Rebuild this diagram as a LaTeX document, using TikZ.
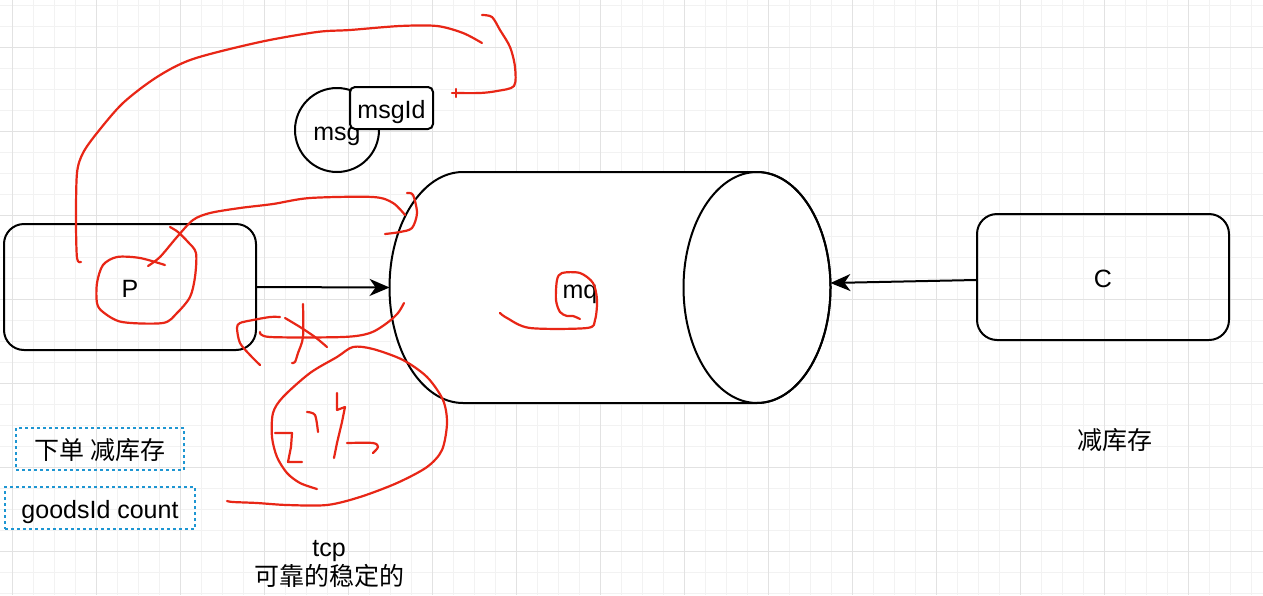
\documentclass[tikz,border=0pt]{standalone}
\usepackage{fontspec}
\setmainfont{Liberation Sans}
\newfontfamily\cjk{Noto Sans CJK SC}
\usetikzlibrary{arrows.meta}
\usetikzlibrary{calc}
\usetikzlibrary{positioning}
\definecolor{pen}{RGB}{232, 38, 22}
\definecolor{tagblue}{RGB}{30, 150, 210}
\definecolor{gridminor}{RGB}{242, 242, 242}
\definecolor{gridmajor}{RGB}{226, 226, 226}
\tikzset{
  every node/.style={font=\fontsize{12.5pt}{15pt}\selectfont, inner sep=0,
    text height=13.5pt, text depth=3pt},
  procbox/.style={draw, line width=1pt, rounded corners=10pt,
    minimum width=126pt, minimum height=63pt},
  idbox/.style={draw, fill=white, line width=1pt, rounded corners=2.5pt,
    minimum width=41.5pt, minimum height=21pt},
  tagbox/.style={draw=tagblue, line width=0.7pt, dash pattern=on 1.5pt off 1.5pt,
    minimum height=21pt},
  arrow/.style={-{Stealth[length=10pt, width=8.5pt, inset=3pt]}, line width=1pt},
  scribble/.style={pen, line width=1.1pt, line cap=round, line join=round}
}

\begin{document}
\begin{tikzpicture}[x=0.5pt, y=-0.5pt]
  \useasboundingbox[fill=white] (0,0) rectangle (1263,595);
  % grid
  \foreach \gx in {12,33,...,1263} \draw[gridminor, line width=0.5pt] (\gx,0) -- (\gx,595);
  \foreach \gy in {5,26,...,595} \draw[gridminor, line width=0.5pt] (0,\gy) -- (1263,\gy);
  \foreach \gx in {12,96,...,1263} \draw[gridmajor, line width=0.5pt] (\gx,0) -- (\gx,595);
  \foreach \gy in {47,131,...,595} \draw[gridmajor, line width=0.5pt] (0,\gy) -- (1263,\gy);

  % message
  \node[draw, circle, line width=1pt, minimum size=42pt, text height=0pt, text depth=0pt]
    (msg) at (337,130) {};
  \node (msglabel) at (337,130) {msg};
  \node[idbox] (msgid) at (391.5,108) {msgId};

  % producer, queue, consumer
  \node[procbox] (P) at (130,287) {P};
  \node[minimum width=220pt, minimum height=115.5pt, text height=0pt, text depth=0pt]
    (mq) at (610,287.5) {};
  \draw[line width=1pt, fill=white] (463,172) -- (757,172)
    arc[start angle=-90, end angle=90, x radius=73.5, y radius=115.5]
    -- (463,403)
    arc[start angle=90, end angle=270, x radius=73.5, y radius=115.5] -- cycle;
  \draw[line width=1pt] (757,287.5) ellipse[x radius=73.5, y radius=115.5];
  \node (mqlabel) at (580,287.5) {mq};
  \node[procbox] (C) at (1103,277) {C};

  \draw[arrow] (P.east) -- (mq.west);
  \draw[arrow] ([yshift=-1.5pt]C.west) -- ([yshift=2.25pt]mq.east);

  % notes
  \node[tagbox, minimum width=84pt] (order) at (100,449) {\cjk 下单 减库存};
  \node[tagbox, minimum width=95pt] (goods) at (100,508) {goodsId count};
  \node (stock) at (1115,439) {\cjk 减库存};
  \node (tcp) at (329,545.5) {tcp};
  \node (reliable) at (329,574.5) {\cjk 可靠的稳定的};

  % hand strokes
  \draw[scribble] plot[smooth] coordinates {(81,262) (77,258) (76,220) (77,173) (83,153) (97,133)
    (123,103) (157,77) (193,59) (260,42) (317,32) (350,30) (400,26) (437,26) (463,33) (482,43)};
  \draw[scribble] plot[smooth] coordinates {(482,15) (492,17) (500,30) (510,47) (515,67)
    (514,86) (497,91) (480,93) (455,93)};
  \draw[scribble] (452,93) -- (460,93) (456,89) -- (456,97);
  \draw[scribble] plot[smooth] coordinates {(165,265) (140,258) (117,257) (103,265) (97,283)
    (97,303) (103,312) (122,322) (163,323) (177,313) (190,297) (195,277) (196,253) (188,242)
    (178,232) (170,227)};
  \draw[scribble] plot[smooth] coordinates {(148,266) (160,257) (177,237) (193,220) (210,213)
    (240,208) (273,204) (310,198) (373,197) (393,203) (405,215)};
  \draw[scribble] plot[smooth] coordinates {(407,193) (413,195) (417,213) (412,228) (400,232) (385,234)};
  \draw[scribble] plot[smooth] coordinates {(260,365) (250,355) (240,343) (237,328) (240,323)
    (253,320) (270,317) (280,317)};
  \draw[scribble] plot[smooth] coordinates {(285,318) (300,327) (315,337) (327,347)};
  \draw[scribble] plot[smooth] coordinates {(303,304) (303,337) (298,353) (295,362) (292,363)};
  \draw[scribble] plot[smooth] coordinates {(260,332) (270,337) (343,337) (370,333) (387,323)
    (398,313) (404,303)};
  \draw[scribble] plot[smooth] coordinates {(317,489) (300,483) (287,473) (277,457) (272,437)
    (273,413) (283,397) (310,373) (337,357) (353,347) (373,349) (403,360) (427,377) (443,400)
    (447,423) (442,450) (427,467) (397,483) (360,497) (327,505) (287,505) (257,503) (233,502) (227,501)};
  \draw[scribble] (275,433) -- (292,433) -- (291,447) -- (288,462) -- (302,462);
  \draw[scribble] plot[smooth] coordinates {(307,412) (315,415) (318,432)};
  \draw[scribble] (337,393) -- (337,410) -- (345,407) -- (342,422) -- (337,443) -- (334,458);
  \draw[scribble] plot[smooth] coordinates {(347,443) (373,443) (378,447) (373,453)};
  \draw[scribble] plot[smooth] coordinates {(500,313) (507,318) (530,328) (587,328) (595,320)
    (597,300) (593,283) (580,273) (562,273) (557,280) (556,300) (560,312) (567,316) (573,316) (580,319)};
\end{tikzpicture}
\end{document}
